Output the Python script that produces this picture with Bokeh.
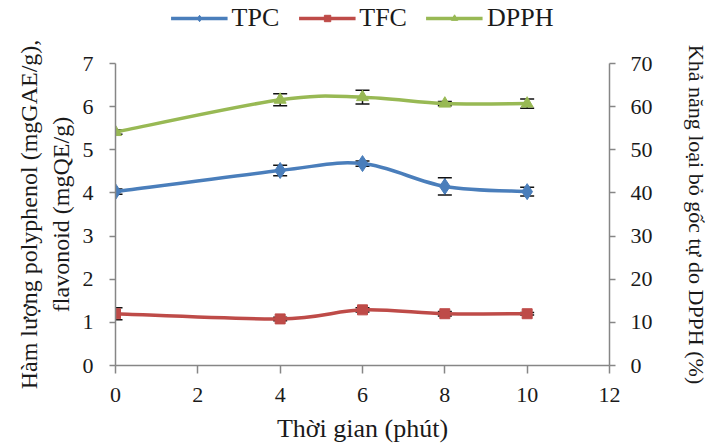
from bokeh.plotting import figure
from bokeh.layouts import column
from bokeh.models import (Range1d, LinearAxis, Whisker, TeeHead, ColumnDataSource,
                          Legend, LegendItem, FixedTicker)
from bokeh.embed import file_html
from bokeh.resources import INLINE

# ---- data ----
time_min = [0, 4, 6, 8, 10]
tpc = [4.03, 4.52, 4.68, 4.15, 4.03]
tpc_err = [0.06, 0.12, 0.06, 0.20, 0.10]
tfc = [1.20, 1.08, 1.29, 1.20, 1.20]
tfc_err = [0.14, 0.04, 0.05, 0.05, 0.03]
dpph = [54.1, 61.6, 62.2, 60.7, 60.7]
dpph_err = [0.5, 1.4, 1.6, 0.5, 1.1]

x_ticks = [0, 2, 4, 6, 8, 10, 12]
left_ticks = [0, 1, 2, 3, 4, 5, 6, 7]
right_ticks = [0, 10, 20, 30, 40, 50, 60, 70]

C_TPC = "#4A7EBB"
C_TFC = "#BE4B48"
C_DPPH = "#98B954"
AX = "#868686"
FONT = "Liberation Serif"
TXT = "#1a1a1a"

W = 712
H_LEG = 36
H_MAIN = 409

p = figure(width=W, height=H_MAIN, output_backend="svg", toolbar_location=None,
           x_range=Range1d(0, 12), y_range=Range1d(0, 7),
           min_border_left=115, min_border_right=103, min_border_bottom=78,
           min_border_top=27)
p.extra_y_ranges = {"right": Range1d(0, 70)}
p.outline_line_color = None
p.xgrid.visible = False
p.ygrid.visible = False
p.background_fill_color = "white"
p.border_fill_color = "white"


def style_axis(ax, title_size):
    ax.axis_line_color = AX
    ax.axis_line_width = 1.5
    ax.major_tick_line_color = AX
    ax.major_tick_line_width = 1.5
    ax.major_tick_out = 6
    ax.major_tick_in = 0
    ax.minor_tick_line_color = None
    ax.major_label_text_font = FONT
    ax.major_label_text_font_size = "22px"
    ax.major_label_text_color = TXT
    ax.axis_label_text_font = FONT
    ax.axis_label_text_font_size = title_size
    ax.axis_label_text_font_style = "normal"
    ax.axis_label_text_color = TXT


p.xaxis.ticker = FixedTicker(ticks=x_ticks)
p.yaxis.ticker = FixedTicker(ticks=left_ticks)
p.xaxis.axis_label = "Thời gian (phút)"
p.yaxis.axis_label = "Hàm lượng polyphenol (mgGAE/g),\nflavonoid (mgQE/g)"
style_axis(p.xaxis[0], "26px")
style_axis(p.yaxis[0], "24px")
p.xaxis.major_tick_out = 8
p.xaxis.major_label_standoff = 14
p.yaxis.major_label_standoff = 16
p.xaxis.axis_label_standoff = 9
p.yaxis.axis_label_standoff = 6

ra = LinearAxis(y_range_name="right", ticker=FixedTicker(ticks=right_ticks),
                axis_label="Khả năng loại bỏ gốc tự do DPPH (%)")
style_axis(ra, "22px")
ra.major_label_standoff = 15
ra.axis_label_standoff = 28
p.add_layout(ra, "right")


def smooth_segments(xs, ys):
    n = len(xs)
    out = dict(x0=[], y0=[], x1=[], y1=[], cx0=[], cy0=[], cx1=[], cy1=[])
    for i in range(n - 1):
        ip = i - 1 if i > 0 else i
        inn = i + 2 if i + 2 < n else i + 1
        out["x0"].append(xs[i]); out["y0"].append(ys[i])
        out["x1"].append(xs[i + 1]); out["y1"].append(ys[i + 1])
        out["cx0"].append(xs[i] + (xs[i + 1] - xs[ip]) / 6)
        out["cy0"].append(ys[i] + (ys[i + 1] - ys[ip]) / 6)
        out["cx1"].append(xs[i + 1] - (xs[inn] - xs[i]) / 6)
        out["cy1"].append(ys[i + 1] - (ys[inn] - ys[i]) / 6)
    return ColumnDataSource(out)


# legend strip above the chart (its data lies outside its own view)
lf = figure(width=W, height=H_LEG, output_backend="svg", toolbar_location=None,
            x_range=Range1d(100, 101), y_range=Range1d(100, 101),
            x_axis_type=None, y_axis_type=None,
            min_border=0, min_border_right=22)
lf.outline_line_color = None
lf.xgrid.visible = False
lf.ygrid.visible = False

items = []
series = [("TPC", tpc, tpc_err, C_TPC, "diamond", 16, "default"),
          ("TFC", tfc, tfc_err, C_TFC, "square", 10, "default"),
          ("DPPH", dpph, dpph_err, C_DPPH, "triangle", 12, "right")]
for name, ys, errs, col, marker, msize, rng in series:
    src = ColumnDataSource(dict(x=time_min, y=ys,
                                lo=[a - b for a, b in zip(ys, errs)],
                                hi=[a + b for a, b in zip(ys, errs)]))
    seg = smooth_segments(time_min, ys)
    p.bezier(x0="x0", y0="y0", x1="x1", y1="y1", cx0="cx0", cy0="cy0",
             cx1="cx1", cy1="cy1", source=seg, line_color=col, line_width=3.5,
             y_range_name=rng)
    p.scatter("x", "y", source=src, marker=marker, size=msize, fill_color=col,
              line_color=col, y_range_name=rng)
    w = Whisker(base="x", lower="lo", upper="hi", source=src, dimension="height",
                line_color="#111111", line_width=1.5, y_range_name=rng,
                upper_head=TeeHead(size=14, line_color="#111111", line_width=1.5),
                lower_head=TeeHead(size=14, line_color="#111111", line_width=1.5))
    p.add_layout(w)
    ll = lf.line(x="x", y="y", source=src, line_color=col, line_width=3.5)
    ls = lf.scatter(x="x", y="y", source=src, marker=marker, size=msize,
                    fill_color=col, line_color=col)
    items.append(LegendItem(label=name, renderers=[ll, ls]))

leg = Legend(items=items, orientation="horizontal", location="center",
             label_text_font=FONT, label_text_font_size="26px",
             label_text_color=TXT, glyph_width=57, glyph_height=16,
             label_standoff=4, spacing=19, padding=0, margin=0,
             border_line_color=None, background_fill_alpha=0)
lf.add_layout(leg)

layout = column(lf, p, spacing=0)
open("out.html", "w").write(file_html(layout, INLINE))
